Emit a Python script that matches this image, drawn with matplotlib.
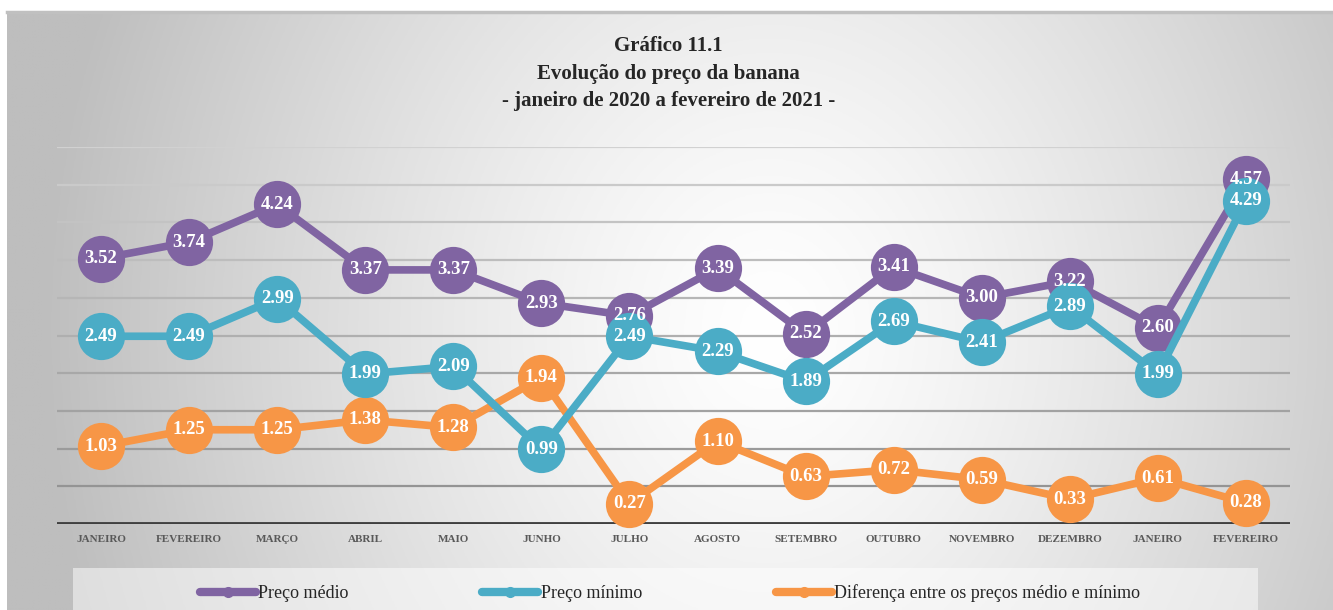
import numpy as np
import matplotlib
matplotlib.use("Agg")
import matplotlib.pyplot as plt
from matplotlib.lines import Line2D
from matplotlib.patches import Rectangle

months = ["JANEIRO", "FEVEREIRO", "MARÇO", "ABRIL", "MAIO", "JUNHO", "JULHO",
          "AGOSTO", "SETEMBRO", "OUTUBRO", "NOVEMBRO", "DEZEMBRO", "JANEIRO", "FEVEREIRO"]
preco_medio = [3.52, 3.74, 4.24, 3.37, 3.37, 2.93, 2.76, 3.39, 2.52, 3.41, 3.00, 3.22, 2.60, 4.57]
preco_minimo = [2.49, 2.49, 2.99, 1.99, 2.09, 0.99, 2.49, 2.29, 1.89, 2.69, 2.41, 2.89, 1.99, 4.29]
diferenca = [1.03, 1.25, 1.25, 1.38, 1.28, 1.94, 0.27, 1.10, 0.63, 0.72, 0.59, 0.33, 0.61, 0.28]
series_names = ["Preço médio", "Preço mínimo", "Diferença entre os preços médio e mínimo"]
title_lines = ["Gráfico 11.1", "Evolução do preço da banana", "- janeiro de 2020 a fevereiro de 2021 -"]

C_PURPLE = "#8064A2"
C_TEAL = "#4BACC6"
C_ORANGE = "#F79646"
SERIF = ["Liberation Serif", "DejaVu Serif"]

W, H = 1333, 610
fig = plt.figure(figsize=(W / 100, H / 100), dpi=100)
fig.patch.set_facecolor("white")

# background radial gradient panel
bx0, by_top = 7, 12
bg = fig.add_axes([bx0 / W, 0, (W - bx0) / W, (H - by_top) / H])
bg.set_axis_off()
xs = np.linspace(bx0, W, 400)
ys = np.linspace(by_top, H, 200)
X, Y = np.meshgrid(xs, ys)
r = np.sqrt(((X - 770) / 720.0) ** 2 + ((Y - 330) / 850.0) ** 2)
g = 255 - 64 * np.clip(r, 0, 1.3) ** 1.3
g = np.clip(g, 190, 255) / 255.0
img = np.dstack([g, g, g])
bg.imshow(img, aspect="auto", extent=[0, 1, 0, 1], origin="upper")
bg.set_xlim(0, 1)
bg.set_ylim(0, 1)
bg.plot([0, 1], [1, 1], color="#c0c0c0", lw=2.5, transform=bg.transAxes, clip_on=False)

# legend box
fig.patches.append(Rectangle((73 / W, 0), (1258 - 73) / W, (610 - 568) / H,
                             transform=fig.transFigure, facecolor="white", alpha=0.5,
                             edgecolor="none", zorder=1))

# main axes
left, right = 57, 1290
y0px, y5px = 524, 147
ax = fig.add_axes([left / W, (H - y0px) / H, (right - left) / W, (y0px - y5px) / H])
ax.set_facecolor("none")
x = np.arange(len(months))
ax.set_xlim(-0.5, len(months) - 0.5)
ax.set_ylim(0, 5)

grid_vals = np.arange(0.5, 5.01, 0.5)
for i, gv in enumerate(grid_vals):
    t = i / (len(grid_vals) - 1)
    c = 0.58 + 0.24 * t
    ax.axhline(gv, color=(c, c, c), lw=1.6, zorder=1)
ax.axhline(0, color="#404040", lw=3.5, zorder=2)

for s in ax.spines.values():
    s.set_visible(False)
ax.set_yticks([])
ax.set_xticks(x)
ax.set_xticklabels(months, fontfamily=SERIF, fontweight="bold", fontsize=8, color="#595959")
ax.tick_params(axis="x", length=0, pad=8)

ms = 34
data = [(diferenca, C_ORANGE, 3), (preco_medio, C_PURPLE, 4), (preco_minimo, C_TEAL, 5)]
for vals, col, z in data:
    ax.plot(x, vals, color=col, lw=5.5, marker="o", markersize=ms, markeredgewidth=0,
            zorder=z, clip_on=False, solid_capstyle="round")
for vals, col, z in data:
    for xi, v in zip(x, vals):
        ax.text(xi, v, f"{v:.2f}", ha="center", va="center", color="white",
                fontfamily=SERIF, fontweight="bold", fontsize=13.5, zorder=10)

# title
for i, line in enumerate(title_lines):
    fig.text(0.5 + 2 / W, 1 - (46 + 27.5 * i) / H, line, ha="center", va="center",
             fontfamily=SERIF, fontweight="bold", fontsize=15, color="#262626")

# legend
handles = [Line2D([], [], color=c, lw=6, marker="o", markersize=7, solid_capstyle="round")
           for c in (C_PURPLE, C_TEAL, C_ORANGE)]
leg = fig.legend(handles, series_names, loc="center", bbox_to_anchor=(670 / W, 1 - 593 / H),
                 ncol=3, frameon=False, handlelength=3.1, handletextpad=0.15,
                 columnspacing=7.4, prop={"family": SERIF, "size": 13})
for t in leg.get_texts():
    t.set_color("#262626")

fig.savefig("out.png", dpi=100)
